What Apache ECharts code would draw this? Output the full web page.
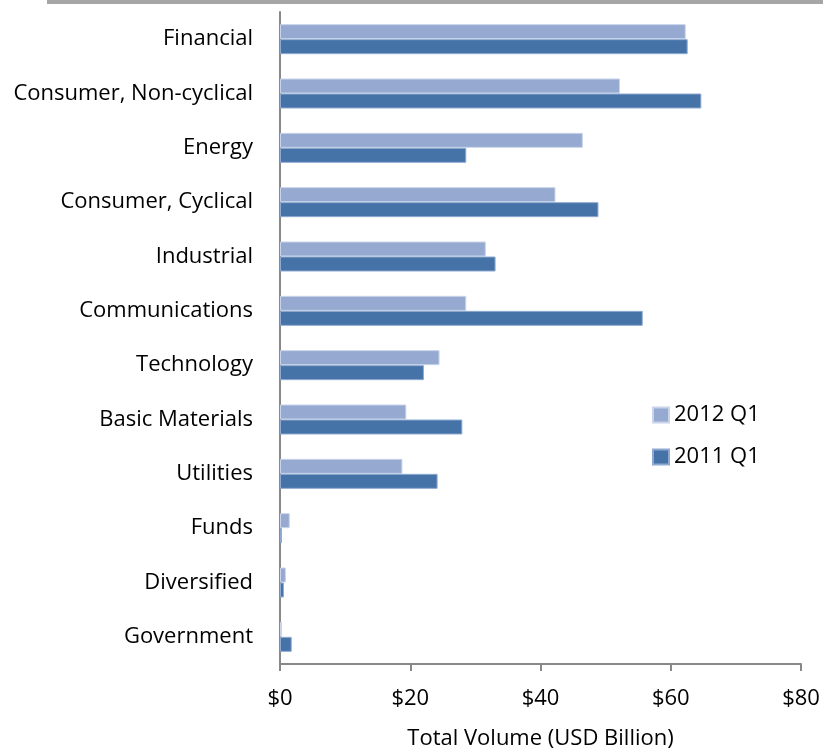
<!DOCTYPE html>
<html>
<head>
<meta charset="utf-8">
<script src="https://cdn.jsdelivr.net/npm/echarts@6/dist/echarts.min.js"></script>
<style>
  html, body { margin: 0; padding: 0; background: #fff; }
  #chart { width: 823px; height: 748px; }
</style>
</head>
<body>
<div id="chart"></div>
<script>
const categories = ['Financial', 'Consumer, Non-cyclical', 'Energy', 'Consumer, Cyclical',
  'Industrial', 'Communications', 'Technology', 'Basic Materials', 'Utilities',
  'Funds', 'Diversified', 'Government']
const q1_2012 = [62.3, 52.2, 46.5, 42.3, 31.6, 28.6, 24.5, 19.4, 18.8, 1.5, 0.9, 0.3]
const q1_2011 = [62.6, 64.7, 28.6, 48.9, 33.1, 55.7, 22.1, 28.0, 24.2, 0.3, 0.6, 1.8]
const xTicks = [0, 20, 40, 60, 80]

const font = 'Open Sans'
const chart = echarts.init(document.getElementById('chart'))
const options = {
  animation: false,
  textStyle: { fontFamily: font },
  grid: { left: 280, top: 12, right: 22, bottom: 84, outerBoundsMode: 'none' },
  legend: {
    orient: 'vertical',
    left: 652,
    top: 404,
    padding: 0,
    itemWidth: 16,
    itemHeight: 15,
    itemGap: 20,
    icon: 'rect',
    textStyle: { fontSize: 22, color: '#000', fontFamily: font },
    data: ['2012 Q1', '2011 Q1']
  },
  xAxis: {
    type: 'value',
    min: xTicks[0],
    max: xTicks[xTicks.length - 1],
    interval: 20,
    name: 'Total Volume (USD Billion)',
    nameLocation: 'middle',
    nameGap: 64,
    nameTextStyle: { fontSize: 22, color: '#000' },
    axisLine: { show: true, lineStyle: { color: '#888', width: 2 } },
    axisTick: { show: true, length: 7, lineStyle: { color: '#888', width: 2 } },
    axisLabel: { fontSize: 22, color: '#000', margin: 24, formatter: v => '$' + v },
    splitLine: { show: false }
  },
  yAxis: {
    type: 'category',
    inverse: true,
    data: categories,
    axisLine: { lineStyle: { color: '#888', width: 2 } },
    axisTick: { length: 7, lineStyle: { color: '#888', width: 2 } },
    axisLabel: { fontSize: 22, color: '#000', margin: 27 }
  },
  series: [
    {
      name: '2012 Q1',
      type: 'bar',
      data: q1_2012,
      barWidth: 15,
      barGap: '0%',
      itemStyle: { color: '#95a9d1', borderColor: '#c9d4ea', borderWidth: 1 }
    },
    {
      name: '2011 Q1',
      type: 'bar',
      data: q1_2011,
      barWidth: 15,
      barGap: '0%',
      itemStyle: { color: '#4573a7', borderColor: '#8faad0', borderWidth: 1 }
    }
  ],
  graphic: [
    { type: 'rect', shape: { x: 47, y: 0, width: 776, height: 4 }, style: { fill: '#a6a6a6' } }
  ]
}
chart.setOption(options)
</script>
</body>
</html>
